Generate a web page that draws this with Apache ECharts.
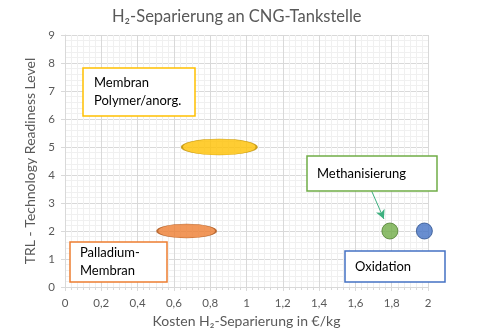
<!DOCTYPE html>
<html><head><meta charset="utf-8">
<script src="https://cdn.jsdelivr.net/npm/echarts@6/dist/echarts.min.js"></script>
<style>html,body{margin:0;padding:0;background:#fff}#c{width:500px;height:334px}</style>
</head><body><div id="c"></div>
<script>
const technologies = ['Membran Polymer/anorg.', 'Palladium-Membran', 'Methanisierung', 'Oxidation'];
const costs = [0.85, 0.67, 1.79, 1.98];
const trl = [5, 2, 2, 2];
const xTicks = [0, 0.2, 0.4, 0.6, 0.8, 1, 1.2, 1.4, 1.6, 1.8, 2];
const yTicks = [0, 1, 2, 3, 4, 5, 6, 7, 8, 9];
const arrowFrom = [1.688, 3.45];
const arrowTo = [1.757, 2.43];

const colors = ['#FFC000', '#ED7D31', '#70AD47', '#4472C4'];
const borders = ['#BF9000', '#AE5A21', '#507E32', '#2F528F'];
const sizes = [[75, 16], [59, 14], [16, 16], [16, 16]];
const FONT = 'Lato';

const chart = echarts.init(document.getElementById('c'), null, {renderer: 'canvas'});

function box(x, y, w, h, color, lines, tx) {
  const children = [{
    type: 'rect', z: 100, shape: {x: x, y: y, width: w, height: h},
    style: {fill: '#ffffff', stroke: color, lineWidth: 1.5}
  }];
  lines.forEach((t, i) => {
    children.push({
      type: 'text', z: 101, style: {
        text: t, x: tx, y: y + h / 2 + (i - (lines.length - 1) / 2) * 17.5,
        fill: '#000', font: '13px ' + FONT, textVerticalAlign: 'middle'
      }
    });
  });
  return {type: 'group', z: 100, children: children};
}

chart.setOption({
  animation: false,
  title: {
    text: 'H\u2082-Separierung an CNG-Tankstelle',
    left: 107, top: 3,
    textStyle: {fontFamily: FONT, fontSize: 16.5, fontWeight: 'normal', color: '#595959'}
  },
  grid: {left: 65, right: 72, top: 35, bottom: 47},
  xAxis: {
    type: 'value', min: 0, max: 2, interval: 0.2,
    name: 'Kosten H\u2082-Separierung in \u20ac/kg', nameLocation: 'middle', nameGap: 27,
    nameTextStyle: {fontFamily: FONT, fontSize: 14, color: '#595959'},
    axisLine: {show: true, lineStyle: {color: '#D9D9D9'}},
    axisTick: {show: true, length: 4, lineStyle: {color: '#D9D9D9'}},
    minorTick: {show: true, splitNumber: 6, length: 3, lineStyle: {color: '#D9D9D9'}},
    axisLabel: {fontFamily: FONT, fontSize: 11.5, color: '#595959', margin: 10,
      formatter: v => String(Math.round(v * 10) / 10).replace('.', ',')},
    splitLine: {show: true, lineStyle: {color: '#D9D9D9'}},
    minorSplitLine: {show: true, lineStyle: {color: '#F0F0F0'}}
  },
  yAxis: {
    type: 'value', min: 0, max: 9, interval: 1,
    name: 'TRL - Technology Readiness Level', nameLocation: 'middle', nameGap: 25,
    nameTextStyle: {fontFamily: FONT, fontSize: 14, color: '#595959'},
    axisLine: {show: true, lineStyle: {color: '#D9D9D9'}},
    axisTick: {show: true, length: 4, lineStyle: {color: '#D9D9D9'}},
    minorTick: {show: false, splitNumber: 5},
    axisLabel: {fontFamily: FONT, fontSize: 11.5, color: '#595959', margin: 10},
    splitLine: {show: true, lineStyle: {color: '#D9D9D9'}},
    minorSplitLine: {show: true, lineStyle: {color: '#F0F0F0'}}
  },
  series: [{
    type: 'scatter',
    data: costs.map((c, i) => ({
      name: technologies[i], value: [c, trl[i]],
      symbolSize: sizes[i],
      itemStyle: {color: colors[i], borderColor: borders[i], borderWidth: 1}
    })),
    markLine: {
      silent: true, symbol: ['none', 'arrow'], symbolSize: [7, 9],
      label: {show: false},
      lineStyle: {color: '#3DB07F', width: 1, type: 'solid'},
      data: [[{coord: arrowFrom}, {coord: arrowTo}]]
    }
  }],
  graphic: [
    box(83, 68, 112, 48, '#FFC000', ['Membran', 'Polymer/anorg.'], 94),
    box(70, 242, 97, 40, '#ED7D31', ['Palladium-', 'Membran'], 80),
    box(307, 156, 130, 35, '#70AD47', ['Methanisierung'], 317),
    box(345, 251, 100, 31, '#4472C4', ['Oxidation'], 355)
  ]
});
</script></body></html>
